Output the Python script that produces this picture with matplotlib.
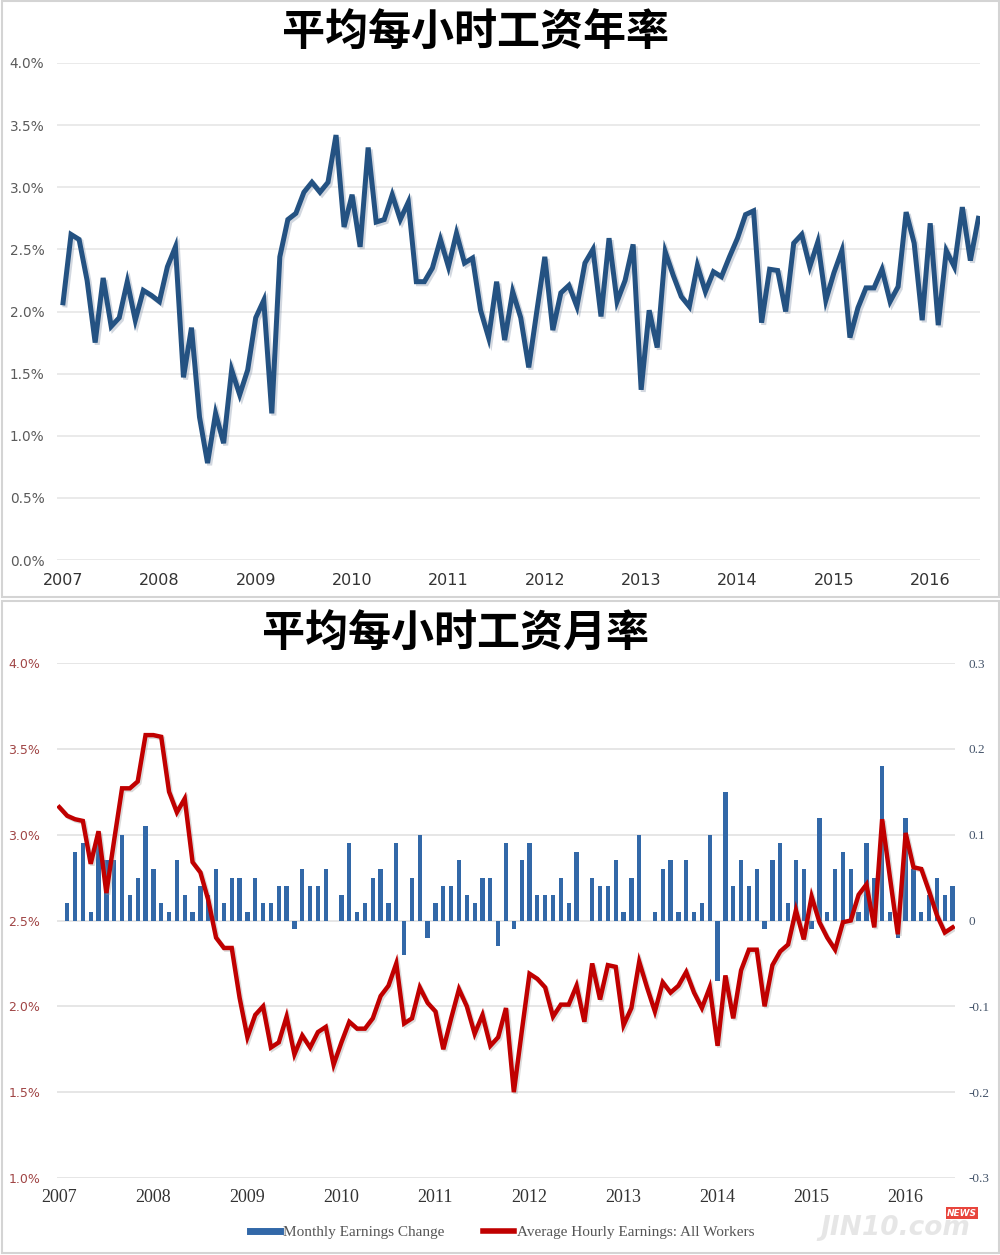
import numpy as np
import matplotlib
matplotlib.use("Agg")
import matplotlib.pyplot as plt
import matplotlib.patheffects as pe
from matplotlib.patches import Rectangle
from matplotlib.lines import Line2D

# ---- data (monthly, Jan 2007 .. Jul 2016) ----
years = [str(y) for y in range(2007, 2017)]

# top panel: average hourly earnings, y/y %
yoy = [2.07, 2.62, 2.58, 2.25, 1.75, 2.27, 1.88, 1.95, 2.24, 1.93, 2.17, 2.13,
       2.08, 2.36, 2.52, 1.47, 1.87, 1.15, 0.78, 1.18, 0.94, 1.53, 1.33, 1.53,
       1.95, 2.09, 1.18, 2.44, 2.74, 2.79, 2.96, 3.04, 2.96, 3.04, 3.42, 2.68,
       2.94, 2.52, 3.32, 2.72, 2.74, 2.94, 2.74, 2.88, 2.24, 2.24, 2.35, 2.58,
       2.36, 2.63, 2.39, 2.43, 2.01, 1.79, 2.24, 1.77, 2.16, 1.95, 1.55, 2.00,
       2.44, 1.85, 2.15, 2.21, 2.04, 2.39, 2.50, 1.96, 2.59, 2.08, 2.25, 2.54,
       1.37, 2.01, 1.71, 2.48, 2.29, 2.12, 2.04, 2.37, 2.16, 2.32, 2.28, 2.44,
       2.59, 2.78, 2.81, 1.91, 2.34, 2.33, 2.00, 2.55, 2.62, 2.36, 2.56, 2.09,
       2.31, 2.49, 1.79, 2.03, 2.19, 2.19, 2.34, 2.08, 2.20, 2.80, 2.55, 1.93,
       2.71, 1.89, 2.49, 2.36, 2.84, 2.41, 2.75]

# bottom panel: Average Hourly Earnings: All Workers (left axis, %)
ahe = [3.16, 3.11, 3.09, 3.08, 2.83, 3.02, 2.66, 2.97, 3.27, 3.27, 3.31, 3.58,
       3.58, 3.57, 3.25, 3.13, 3.21, 2.84, 2.78, 2.62, 2.40, 2.34, 2.34, 2.05,
       1.82, 1.95, 2.00, 1.76, 1.79, 1.94, 1.72, 1.83, 1.76, 1.85, 1.88, 1.66,
       1.79, 1.91, 1.87, 1.87, 1.93, 2.06, 2.12, 2.25, 1.90, 1.93, 2.11, 2.02,
       1.97, 1.75, 1.93, 2.10, 2.00, 1.84, 1.95, 1.77, 1.82, 1.99, 1.50, 1.85,
       2.19, 2.16, 2.11, 1.94, 2.01, 2.01, 2.12, 1.91, 2.25, 2.04, 2.24, 2.23,
       1.89, 1.99, 2.26, 2.11, 1.97, 2.14, 2.08, 2.12, 2.20, 2.08, 1.99, 2.11,
       1.77, 2.18, 1.93, 2.21, 2.33, 2.33, 2.00, 2.24, 2.32, 2.36, 2.56, 2.39,
       2.64, 2.49, 2.40, 2.33, 2.49, 2.50, 2.65, 2.71, 2.46, 3.09, 2.75, 2.42,
       3.01, 2.81, 2.80, 2.67, 2.53, 2.43, 2.46]

# Monthly Earnings Change (right axis), Feb 2007 .. Jul 2016
mchg = [0.02, 0.08, 0.09, 0.01, 0.09, 0.07, 0.07, 0.10, 0.03, 0.05, 0.11, 0.06,
        0.02, 0.01, 0.07, 0.03, 0.01, 0.04, 0.03, 0.06, 0.02, 0.05, 0.05, 0.01,
        0.05, 0.02, 0.02, 0.04, 0.04, -0.01, 0.06, 0.04, 0.04, 0.06, 0.00, 0.03,
        0.09, 0.01, 0.02, 0.05, 0.06, 0.02, 0.09, -0.04, 0.05, 0.10, -0.02, 0.02,
        0.04, 0.04, 0.07, 0.03, 0.02, 0.05, 0.05, -0.03, 0.09, -0.01, 0.07, 0.09,
        0.03, 0.03, 0.03, 0.05, 0.02, 0.08, 0.00, 0.05, 0.04, 0.04, 0.07, 0.01,
        0.05, 0.10, 0.00, 0.01, 0.06, 0.07, 0.01, 0.07, 0.01, 0.02, 0.10, -0.07,
        0.15, 0.04, 0.07, 0.04, 0.06, -0.01, 0.07, 0.09, 0.02, 0.07, 0.06, -0.01,
        0.12, 0.01, 0.06, 0.08, 0.06, 0.01, 0.09, 0.05, 0.18, 0.01, -0.02, 0.12,
        0.06, 0.01, 0.03, 0.05, 0.03, 0.04]

title_top = "平均每小时工资年率"
title_bot = "平均每小时工资月率"
cjk = ["Noto Sans CJK SC", "DejaVu Sans"]

W, H = 1000, 1255
fig = plt.figure(figsize=(W / 100, H / 100), dpi=100)
fig.patch.set_facecolor("white")


def fbox(l, t, r, b):
    # pixel box -> figure fraction rect
    return [l / W, 1 - b / H, (r - l) / W, (b - t) / H]


# panel frames
for t, b in [(1, 597), (601, 1253)]:
    fig.add_artist(Rectangle((1.5 / W, 1 - b / H), (W - 3) / W, (b - t) / H,
                             transform=fig.transFigure, fill=False,
                             ec="#d4d4d4", lw=1.5))

# -------- top panel --------
ax1 = fig.add_axes(fbox(57, 63, 980, 560))
m1 = np.arange(len(yoy))
ax1.plot(m1, yoy, color="#245282", lw=3.6, solid_joinstyle="miter",
         path_effects=[pe.SimpleLineShadow(offset=(1.5, -1.5), shadow_color="#7f8fa6", alpha=0.35),
                       pe.Normal()], zorder=3)
ax1.set_xlim(-0.75, 114.2)
ax1.set_ylim(0, 4.0)
yt = np.arange(0, 4.01, 0.5)
ax1.set_yticks(yt)
ax1.set_yticklabels([f"{v:.1f}%" for v in yt], color="#5a5a5a", fontsize=9.8)
ax1.set_xticks(np.arange(0, 120, 12))
ax1.set_xticklabels(years, color="#333333", fontsize=11.5)
ax1.tick_params(length=0, axis="y", pad=9)
ax1.tick_params(length=0, axis="x", pad=9)
for s in ax1.spines.values():
    s.set_visible(False)
ax1.grid(axis="y", color="#e8e8e8", lw=1.3)
ax1.set_axisbelow(True)
fig.text(475 / W, 1 - 33 / H, title_top, ha="center", va="center",
         fontsize=31, fontweight="bold", family=cjk, color="black")

# -------- bottom panel --------
ax2 = fig.add_axes(fbox(57, 663, 955, 1178))
ax3 = ax2.twinx()
ax2.set_zorder(ax3.get_zorder() + 1)
ax2.patch.set_visible(False)

m2 = np.arange(len(ahe))
mb = np.arange(1, len(mchg) + 1)
ax3.bar(mb, mchg, width=0.55, color="#3268a8", edgecolor="none", zorder=2)
ax2.plot(m2, ahe, color="#c00000", lw=3.2, solid_joinstyle="miter",
         path_effects=[pe.SimpleLineShadow(offset=(1.2, -1.2), shadow_color="#999999", alpha=0.35),
                       pe.Normal()], zorder=3)

ax2.set_xlim(-0.3, 114.3)
ax2.set_ylim(1.0, 4.0)
ax3.set_ylim(-0.3, 0.3)
lt = np.arange(1.0, 4.01, 0.5)
ax2.set_yticks(lt)
ax2.set_yticklabels([f"{v:.1f}%" for v in lt], color="#a04545", fontsize=9)
rt = np.round(np.arange(-0.3, 0.31, 0.1), 1)
ax3.set_yticks(rt)
ax3.set_yticklabels(["0" if v == 0 else f"{v:g}" for v in rt], color="#44546a",
                    fontsize=9.5, family="Liberation Serif")
ax2.set_xticks(np.arange(0, 120, 12))
ax2.set_xticklabels(years, color="#333333", fontsize=13, family="Liberation Serif")
ax2.tick_params(length=0, axis="y", pad=12)
ax3.tick_params(length=0, axis="y", pad=10)
ax2.tick_params(length=0, axis="x", pad=8)
for a in (ax2, ax3):
    for s in a.spines.values():
        s.set_visible(False)
ax3.grid(axis="y", color="#e4e4e4", lw=1.3)
ax3.set_axisbelow(True)
fig.text(456 / W, 1 - 634 / H, title_bot, ha="center", va="center",
         fontsize=31, fontweight="bold", family=cjk, color="black")

# legend
handles = [Line2D([], [], color="#3268a8", lw=5),
           Line2D([], [], color="#c00000", lw=4)]
fig.legend(handles, ["Monthly Earnings Change", "Average Hourly Earnings: All Workers"],
           loc="center", bbox_to_anchor=(502 / W, 1 - 1232 / H), ncol=2,
           frameon=False, handlelength=2.0, handletextpad=0.2, columnspacing=2.5,
           prop={"family": "Liberation Serif", "size": 11}, labelcolor="#555555")

# watermark (kept clear of tick labels)
fig.text(895 / W, 1 - 1228 / H, "JIN10.com", ha="center", va="center",
         fontsize=19, fontweight="bold", style="italic", color="#e4e4e4", alpha=0.9)
fig.text(962 / W, 1 - 1213 / H, "NEWS", ha="center", va="center", fontsize=6.5,
         fontweight="bold", style="italic", color="white",
         bbox=dict(boxstyle="square,pad=0.15", fc="#e8453c", ec="none"))

fig.savefig("out.png", dpi=100, facecolor="white")
